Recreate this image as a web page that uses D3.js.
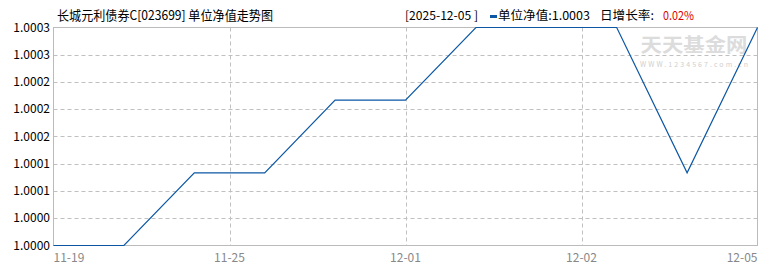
<!DOCTYPE html>
<html><head><meta charset="utf-8">
<script src="https://cdn.jsdelivr.net/npm/d3@7"></script>
<style>
html,body{margin:0;padding:0;background:#fff;}
svg{display:block;}
text{font-family:"SimSun","Noto Sans CJK SC","DejaVu Sans",sans-serif;}
</style>
</head><body>
<svg id="c" width="770" height="270"></svg>
<script>
const dates = ["11-19","11-20","11-21","11-24","11-25","11-26","11-27","11-28","12-01","12-02","12-05"];
const navValues = [1.0000,1.0000,1.0001,1.0001,1.0002,1.0002,1.0003,1.0003,1.0003,1.0001,1.0003];
const xTickPositions = [0,2.5,5,7.5,10];
const xTickLabels = ["11-19","11-25","12-01","12-02","12-05"];
const yTickLabels = ["1.0000","1.0000","1.0001","1.0001","1.0002","1.0002","1.0002","1.0003","1.0003"];
const yMin = 1.0000, yMax = 1.0003;
const titleText = "长城元利债券C[023699] 单位净值走势图";
const legendDate = "[2025-12-05 ]";
const legendNav = "单位净值:1.0003";
const legendRateLabel = "日增长率:";
const legendRate = "0.02%";

const svg = d3.select("#c");
const L = 53.5, R = 757.5, T = 27.5, B = 245.5;
const x = d3.scaleLinear().domain([0, dates.length-1]).range([L, R]);
const y = d3.scaleLinear().domain([yMin, yMax]).range([B, T]);
const yTicks = d3.range(yTickLabels.length).map(i => yMin + (yMax-yMin)*i/(yTickLabels.length-1));

// grid
svg.append("g").selectAll("line.h").data(yTicks.slice(1,-1)).join("line")
  .attr("x1",L).attr("x2",R).attr("y1",d=>Math.round(y(d))+0.5).attr("y2",d=>Math.round(y(d))+0.5)
  .attr("stroke","#c0c0c0").attr("stroke-dasharray","4,3");
svg.append("g").selectAll("line.v").data(xTickPositions.slice(1,-1)).join("line")
  .attr("x1",d=>Math.round(x(d))+0.5).attr("x2",d=>Math.round(x(d))+0.5).attr("y1",T).attr("y2",B)
  .attr("stroke","#c0c0c0").attr("stroke-dasharray","4,3");

// frame
svg.append("rect").attr("x",L).attr("y",T).attr("width",R-L).attr("height",B-T)
  .attr("fill","none").attr("stroke","#bbb");

// watermark
svg.append("text").attr("x",694).attr("y",52).attr("text-anchor","middle")
  .attr("font-size",19).attr("font-weight","bold").attr("fill","#dcdcdc")
  .attr("textLength",107).attr("lengthAdjust","spacingAndGlyphs").text("天天基金网");
svg.append("text").attr("x",694).attr("y",67).attr("text-anchor","middle")
  .attr("font-size",7).attr("fill","#cfcfcf")
  .attr("textLength",108).attr("lengthAdjust","spacing").text("WWW.1234567.com.cn");

// y axis labels
svg.append("g").selectAll("text").data(yTicks).join("text")
  .attr("x",50).attr("y",d=>y(d)+4).attr("text-anchor","end")
  .attr("font-size",12).attr("fill","#000")
  .text((d,i)=>yTickLabels[i]);

// x axis labels
svg.append("g").selectAll("text").data(xTickPositions).join("text")
  .attr("x",d=>x(d)).attr("y",262)
  .attr("text-anchor",(d,i)=> i===0 ? "start" : (i===xTickPositions.length-1 ? "end" : "middle"))
  .attr("font-size",12).attr("fill","#888")
  .text((d,i)=>xTickLabels[i]);

// line
const line = d3.line().x((d,i)=>x(i)).y(d=>y(d));
svg.append("path").datum(navValues).attr("d",line)
  .attr("fill","none").attr("stroke","#0b57a4").attr("stroke-width",1.2);

// title
svg.append("text").attr("x",57).attr("y",20).attr("font-size",13).attr("fill","#000")
  .attr("textLength",216).attr("lengthAdjust","spacingAndGlyphs").text(titleText);

// legend
svg.append("text").attr("x",405).attr("y",20).attr("font-size",12).attr("fill","#000")
  .attr("textLength",73).attr("lengthAdjust","spacingAndGlyphs").text(legendDate);
svg.append("rect").attr("x",490).attr("y",15).attr("width",7).attr("height",3).attr("fill","#0b57a4");
svg.append("text").attr("x",498).attr("y",20).attr("font-size",12).attr("fill","#000")
  .attr("textLength",92).attr("lengthAdjust","spacingAndGlyphs").text(legendNav);
svg.append("text").attr("x",600).attr("y",20).attr("font-size",12).attr("fill","#000")
  .attr("textLength",54).attr("lengthAdjust","spacingAndGlyphs").text(legendRateLabel);
svg.append("text").attr("x",663).attr("y",20).attr("font-size",12).attr("fill","#e00000")
  .attr("textLength",31).attr("lengthAdjust","spacingAndGlyphs").text(legendRate);
</script>
</body></html>
